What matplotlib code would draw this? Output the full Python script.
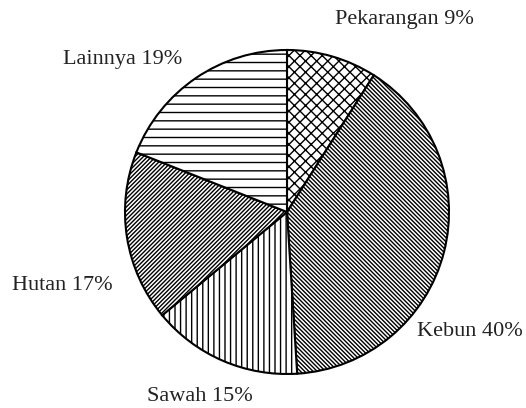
import matplotlib.pyplot as plt

# data
kategori = ["Pekarangan", "Kebun", "Sawah", "Hutan", "Lainnya"]
persen = [9, 40, 15, 17, 19]
arsir = ["xxx", "\\" * 8, "|||", "/" * 8, "--"]

# label positions (axes data units, radius = 1)
pos_label = [(0.728, 1.191), (1.130, -0.735), (-0.537, -1.136), (-1.389, -0.451), (-1.012, 0.944)]

plt.rcParams['font.family'] = ['Liberation Serif', 'DejaVu Serif']
plt.rcParams['hatch.linewidth'] = 1.0

fig = plt.figure(figsize=(5.26, 4.08), dpi=100)
W, H = 526, 408
cx, cy, r = 287, 212, 162
ax = fig.add_axes([(cx - r) / W, (H - cy - r) / H, 2 * r / W, 2 * r / H])

wedges, _ = ax.pie(persen, startangle=90, counterclock=False, radius=1,
                   colors=['white'] * len(persen),
                   wedgeprops=dict(edgecolor='black', linewidth=1.5))
for w, h in zip(wedges, arsir):
    w.set_hatch(h)

for k, p, (x, y) in zip(kategori, persen, pos_label):
    ax.text(x, y, f"{k} {p}%", ha='center', va='center', fontsize=16,
            color='#222222', clip_on=False)

ax.set_xlim(-1, 1)
ax.set_ylim(-1, 1)
ax.set_aspect('equal')
ax.axis('off')

fig.savefig("out.png", dpi=100)
